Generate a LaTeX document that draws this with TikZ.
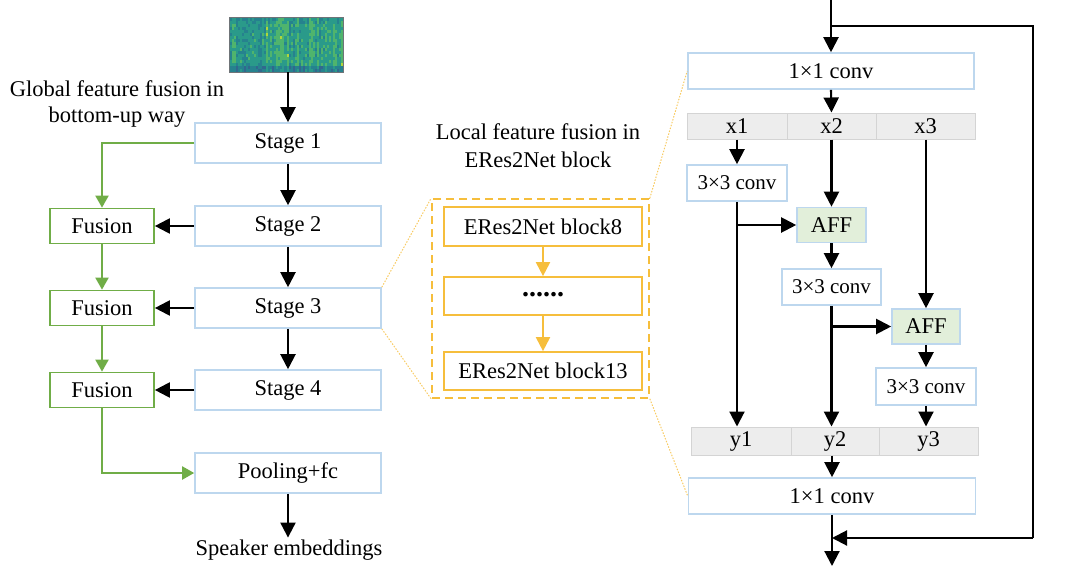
\documentclass[tikz,border=0pt]{standalone}
\usepackage{fontspec}
\setmainfont{Liberation Serif}
\usetikzlibrary{arrows.meta}
\definecolor{bbord}{HTML}{BDD7EE}
\definecolor{gline}{HTML}{70AD47}
\definecolor{orng}{HTML}{F6BE3C}
\definecolor{grayfill}{HTML}{EDEDED}
\definecolor{grayb}{HTML}{D4D4D4}
\definecolor{afffill}{HTML}{E2EFDA}
\definecolor{specborder}{HTML}{6F7478}
\definecolor{vc0}{HTML}{31688E}
\definecolor{vc1}{HTML}{26828E}
\definecolor{vc2}{HTML}{2A9A8A}
\definecolor{vc3}{HTML}{4FB46D}
\definecolor{vc4}{HTML}{B0D63C}
\begin{document}
\begin{tikzpicture}[x=1pt,y=-1pt,
  txt/.style={font=\fontsize{22.5}{26}\selectfont},
  bbox/.style={draw=bbord, line width=1.6pt, fill=white, inner sep=0pt, txt},
  gbox/.style={draw=gline, line width=1.7pt, fill=white, inner sep=0pt, txt},
  obox/.style={draw=orng, line width=1.7pt, fill=white, inner sep=0pt, txt},
  cell/.style={draw=grayb, line width=1pt, fill=grayfill, inner sep=0pt, txt},
  affbox/.style={draw=bbord, line width=1.6pt, fill=afffill, inner sep=0pt, txt},
  blk/.style={line width=2.1pt, black, -{Triangle[length=15pt,width=15pt]}},
  blkline/.style={line width=2.1pt, black},
  grn/.style={line width=2pt, gline, -{Triangle[length=12pt,width=13pt]}},
  org/.style={line width=2pt, orng, -{Triangle[length=14pt,width=14pt]}},
  dotl/.style={orng!80, line width=1pt, dash pattern=on 1.5pt off 1.5pt},
  sml/.style={font=\fontsize{21}{24}\selectfont}
]
\useasboundingbox (0,0) rectangle (1080,584);

% spectrogram
\node[minimum width=113pt, minimum height=54pt, inner sep=0pt, fill=vc2] (spec) at (286.5,45) {};
\pgfmathsetseed{23}
\foreach \c in {0,...,55} {
  \pgfmathsetmacro\colint{rnd}
  \foreach \r in {0,...,17} {
    \pgfmathsetmacro\v{0.3+0.42*\colint+0.33*rnd-0.3*(\r>15)-0.1*(\r<2)}
    \pgfmathtruncatemacro\k{min(4,max(0,floor(\v*4)))}
    \fill[vc\k] ({230+\c*2.018},{18+\r*3}) rectangle ++(2.2,3.2);
  }
}
\draw[specborder, line width=0.8pt] (spec.north west) rectangle (spec.south east);

% global part
\node[txt, align=center] (gtxt) at (117,104) {Global feature fusion in\\bottom-up way};
\node[bbox, minimum width=186pt, minimum height=40pt] (s1) at (288,143) {Stage 1};
\node[bbox, minimum width=186pt, minimum height=40pt] (s2) at (288,226) {Stage 2};
\node[bbox, minimum width=186pt, minimum height=40pt] (s3) at (288,308) {Stage 3};
\node[bbox, minimum width=186pt, minimum height=40pt] (s4) at (288,390) {Stage 4};
\node[bbox, minimum width=186pt, minimum height=40pt] (pool) at (288,473) {Pooling+fc};
\node[txt, inner sep=2pt] (spk) at (289,550) {Speaker embeddings};
\node[gbox, minimum width=104pt, minimum height=35pt] (f1) at (102,226) {Fusion};
\node[gbox, minimum width=104pt, minimum height=35pt] (f2) at (102,308) {Fusion};
\node[gbox, minimum width=104pt, minimum height=35pt] (f3) at (102,390) {Fusion};

\draw[blk] (spec.south -| s1.north) -- (s1.north);
\draw[blk] (s1.south) -- (s2.north);
\draw[blk] (s2.south) -- (s3.north);
\draw[blk] (s3.south) -- (s4.north);
\draw[blk] (pool.south) -- (pool.south |- spk.north);
\draw[blk] (s2.west) -- (s2.west -| f1.east);
\draw[blk] (s3.west) -- (s3.west -| f2.east);
\draw[blk] (s4.west) -- (s4.west -| f3.east);
\draw[grn] (s1.west) -| (f1.north);
\draw[grn] (f1.south) -- (f2.north);
\draw[grn] (f2.south) -- (f3.north);
\draw[grn] (f3.south) |- (pool.west);

% local part
\node[txt, align=center, font=\fontsize{22.5}{28}\selectfont] (ltxt) at (538,146) {Local feature fusion in\\ERes2Net block};
\node[draw=orng, line width=1.7pt, dash pattern=on 8pt off 5pt, minimum width=217pt, minimum height=199pt, inner sep=0pt] (dbox) at (540.5,298.5) {};
\node[obox, minimum width=198pt, minimum height=39pt] (b8) at (543,226.5) {ERes2Net block8};
\node[obox, minimum width=198pt, minimum height=38pt] (bd) at (543,296) {\fontsize{28}{28}\selectfont\textbf{\raisebox{3pt}{......}}};
\node[obox, minimum width=198pt, minimum height=38pt] (b13) at (543,371) {ERes2Net block13};
\draw[org] (b8.south) -- (bd.north);
\draw[org] (bd.south) -- (b13.north);

% right module
\node[bbox, minimum width=286pt, minimum height=36pt] (c1) at (831,71) {1×1 conv};
\node[cell, minimum width=100pt, minimum height=26pt] (x1) at (737,126) {x1};
\node[cell, minimum width=89pt, minimum height=26pt] (x2) at (831.5,126) {x2};
\node[cell, minimum width=99pt, minimum height=26pt] (x3) at (925.5,126) {x3};
\node[bbox, sml, minimum width=100pt, minimum height=36pt] (cv1) at (737,183) {3×3 conv};
\node[affbox, minimum width=69pt, minimum height=35pt] (aff1) at (831.5,225) {AFF};
\node[bbox, sml, minimum width=99pt, minimum height=36pt] (cv2) at (831.5,287) {3×3 conv};
\node[affbox, minimum width=68pt, minimum height=35pt] (aff2) at (926,326.5) {AFF};
\node[bbox, sml, minimum width=100pt, minimum height=37pt] (cv3) at (926,386.5) {3×3 conv};
\node[cell, minimum width=100pt, minimum height=28pt] (y1) at (741,441) {y1};
\node[cell, minimum width=88pt, minimum height=28pt] (y2) at (835,441) {y2};
\node[cell, minimum width=99pt, minimum height=28pt] (y3) at (928.5,441) {y3};
\node[bbox, minimum width=287pt, minimum height=36pt] (c2) at (832,496) {1×1 conv};

\coordinate (tin) at (831,0);
\coordinate (br) at (831,26);
\coordinate (sk) at (1033,538);
\coordinate (mrg) at (832,538);
\coordinate (tout) at (832,566);

\draw[blk] (tin) -- (c1.north);
\draw[blkline] (br) -- (br -| sk) -- (sk);
\draw[blk] (sk) -- (mrg);
\draw[blk] (c1.south) -- (x2.north);
\draw[blk] (x1.south) -- (cv1.north);
\draw[blk] (x2.south) -- (aff1.north);
\draw[blk] (cv1.south) -- (cv1.south |- y1.north);
\draw[blk] (cv1.south |- aff1.west) -- (aff1.west);
\draw[blk] (aff1.south) -- (cv2.north);
\draw[blk] (cv2.south) -- (cv2.south |- y2.north);
\draw[blk] (cv2.south |- aff2.west) -- (aff2.west);
\draw[blk] (x3.south -| aff2.north) -- (aff2.north);
\draw[blk] (aff2.south) -- (cv3.north);
\draw[blk] (cv3.south) -- (cv3.south |- y3.north);
\draw[blk] (c2.north |- y2.south) -- (c2.north);
\draw[blk] (c2.south) -- (tout);

% zoom lines
\draw[dotl] (s3.north east) -- (dbox.north west);
\draw[dotl] (s3.south east) -- (dbox.south west);
\draw[dotl] (dbox.north east) -- (c1.west);
\draw[dotl] (dbox.south east) -- (c2.west);
\end{tikzpicture}
\end{document}
